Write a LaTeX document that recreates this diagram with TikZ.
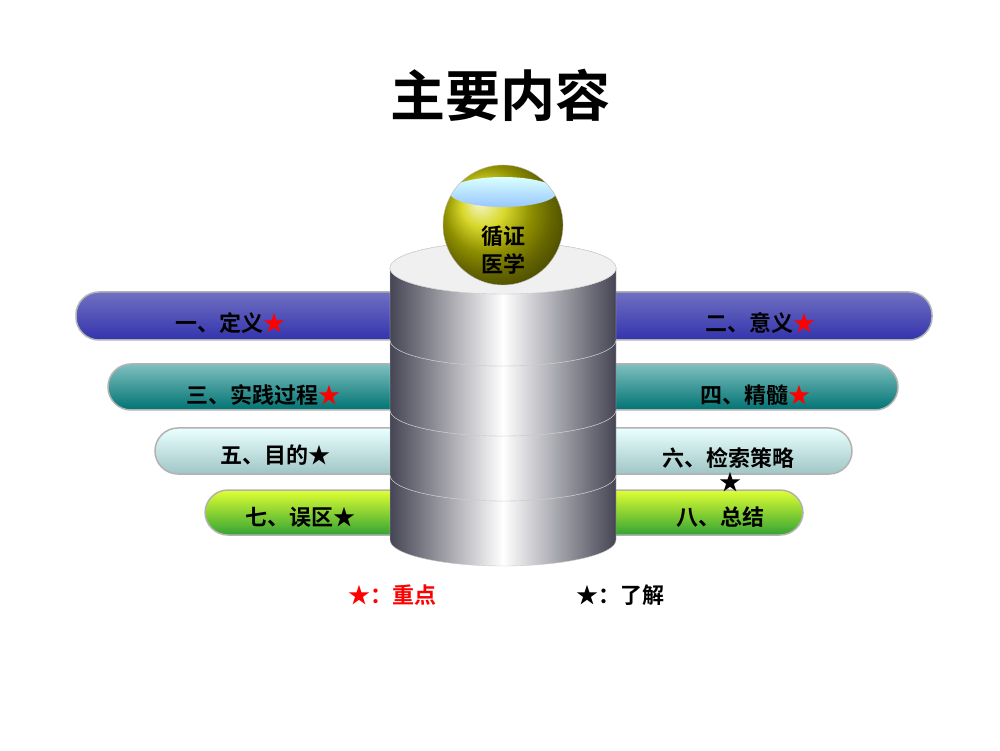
\documentclass[tikz,border=0pt]{standalone}
\usepackage{fontspec}
\newfontfamily\cjk{Noto Sans CJK SC}[BoldFont={Noto Sans CJK SC Bold}]
\begin{document}
\begin{tikzpicture}[x=1pt,y=1pt,
  bar/.style={rounded corners=23pt, draw=gray!60, line width=1.5pt},
  lbl/.style={font=\cjk\bfseries\fontsize{22}{26}\selectfont, text=black},
  seg/.style={left color=gray!90!blue!60!black, right color=gray!90!blue!60!black, middle color=white, draw=gray!40},
  face/.style={fill=gray!20!blue!10, draw=gray!40}]
\useasboundingbox (0,0) rectangle (1000,750);
\fill[white] (0,0) rectangle (1000,750);
% title
\node[font=\cjk\bfseries\fontsize{55}{60}\selectfont] (title) at (500,655) {主要内容};
% bars
\shade[bar, top color=blue!40!gray!80, bottom color=blue!60!black!80] (76,410) rectangle (932,458);
\shade[bar, top color=teal!50!white, bottom color=teal!90!black] (108,340) rectangle (898,386);
\shade[bar, top color=cyan!8, bottom color=cyan!25!gray!60] (155,276) rectangle (852,322);
\shade[bar, top color=lime!60!yellow!80, bottom color=green!55!black!80] (205,215) rectangle (803,260);
\node[lbl] (b1) at (230,427) {一、定义\textcolor{red}{★}};
\node[lbl] (b2) at (760,427) {二、意义\textcolor{red}{★}};
\node[lbl] (b3) at (263,355) {三、实践过程\textcolor{red}{★}};
\node[lbl] (b4) at (755,355) {四、精髓\textcolor{red}{★}};
\node[lbl] (b5) at (275,295) {五、目的★};
\node[lbl] (b6) at (728,292) {六、检索策略};
\node[lbl] (b6s) at (730,268) {★};
\node[lbl] (b7) at (300,233) {七、误区★};
\node[lbl] (b8) at (720,233) {八、总结};
% cylinder
\foreach \t/\b in {275/210,340/275,410/340,482/410}{
  \path[seg] (390,\t) -- (390,\b) arc[start angle=180,end angle=360,x radius=113,y radius=26] -- (616,\t) arc[start angle=0,end angle=180,x radius=113,y radius=26] -- cycle;
  \path[face] (503,\t) ellipse[x radius=113,y radius=26];
}
\path[face, fill=gray!12] (503,482) ellipse[x radius=113,y radius=26];
% sphere
\shade[ball color=yellow!55!olive!90] (503,525) circle[radius=60];
\begin{scope}
\clip (503,525) circle[radius=60];
\shade[top color=cyan!15, bottom color=cyan!45!blue!40] (503,558) ellipse[x radius=54,y radius=15];
\end{scope}
\draw[gray!50] (503,525) circle[radius=60];
\node[font=\cjk\bfseries\fontsize{22}{28}\selectfont, align=center] (core) at (503,500) {循证\\医学};
% legend
\node[font=\cjk\bfseries\fontsize{22}{26}\selectfont, text=red] (k1) at (392,155) {★：重点};
\node[font=\cjk\bfseries\fontsize{22}{26}\selectfont] (k2) at (620,155) {★：了解};
\end{tikzpicture}
\end{document}
